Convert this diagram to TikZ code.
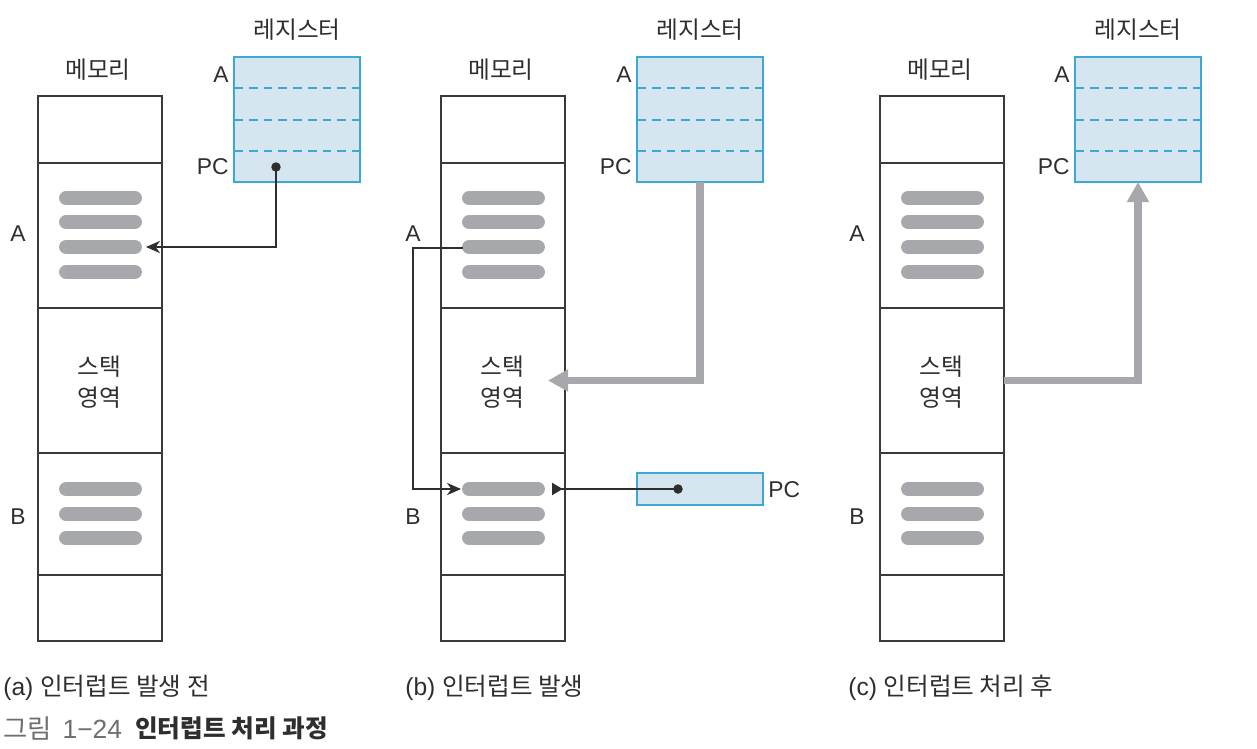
\documentclass[tikz,border=0pt]{standalone}
\usepackage{fontspec}
\setmainfont{Liberation Sans}
\newfontfamily\kr{Noto Sans CJK KR}
\usetikzlibrary{arrows.meta}
\definecolor{regfill}{HTML}{D6E6F1}
\definecolor{regline}{HTML}{3DA9D2}
\definecolor{barg}{HTML}{A7A8AB}
\definecolor{memline}{HTML}{3A3A3A}
\definecolor{txt}{HTML}{2E2E2E}
\definecolor{capgray}{HTML}{6E6E6E}
\begin{document}
\begin{tikzpicture}[x=0.02cm,y=-0.02cm,
  memrow/.style={draw=memline, line width=1.1pt, minimum width=2.48cm, anchor=north west, inner sep=0, outer sep=0},
  reg/.style={draw=regline, fill=regfill, line width=0.9pt, minimum width=2.52cm, anchor=north west, inner sep=0, outer sep=0},
  dashln/.style={draw=regline, dash pattern=on 5pt off 3.4pt, line width=0.8pt},
  bar/.style={draw=barg, line width=7.9pt, line cap=round},
  ptr/.style={draw=txt, line width=0.8pt},
  garrow/.style={draw=barg, line width=4pt, -{Triangle[length=11.5pt,width=12pt]}},
  lbl/.style={text=txt, font=\fontsize{13}{15}\selectfont, inner sep=0},
  kl/.style={text=txt, font=\kr\fontsize{13.5}{18}\selectfont, inner sep=0},
  captxt/.style={text=txt, font=\fontsize{14}{16}\selectfont, inner sep=0, anchor=west}]
\useasboundingbox (0,0) rectangle (1257,748);

\foreach \p/\dx/\rdx/\lx in {a/0/0/18, b/403/403/413, c/842/841/857} {
  % memory column
  \node[memrow, minimum height=1.34cm] (m\p1) at (38+\dx,96) {};
  \node[memrow, minimum height=2.90cm] (m\p2) at (38+\dx,163) {};
  \node[memrow, minimum height=2.90cm] (m\p3) at (38+\dx,308) {};
  \node[memrow, minimum height=2.44cm] (m\p4) at (38+\dx,453) {};
  \node[memrow, minimum height=1.32cm] (m\p5) at (38+\dx,575) {};
  \foreach \yy in {198,222,247,272,489,514,538}
    \draw[bar] (66+\dx,\yy) -- (135+\dx,\yy);
  \node[kl] (ml\p) at (98+\dx,70) {메모리};
  \node[kl, align=center] (st\p) at (99+\dx,382) {스택\\영역};
  \node[lbl] (la\p) at (\lx,234) {A};
  \node[lbl] (lb\p) at (\lx,517) {B};
  % register
  \node[reg, minimum height=2.50cm] (r\p) at (234+\rdx,57) {};
  \draw[dashln] (234+\rdx,88) -- (360+\rdx,88);
  \draw[dashln] (234+\rdx,120) -- (360+\rdx,120);
  \draw[dashln] (234+\rdx,151) -- (360+\rdx,151);
  \node[kl] (rl\p) at (297+\rdx,30) {레지스터};
  \node[lbl, anchor=east] (ra\p) at (229+\rdx,75) {A};
  \node[lbl, anchor=east] (rp\p) at (229+\rdx,167) {PC};
}

% (a) PC points into A block
\coordinate (pa) at (276,167);
\coordinate (ta) at (146,247);
\fill[txt] (pa) circle (2.7pt);
\draw[ptr, -{Stealth[length=8pt,width=7pt,inset=2.5pt]}] (pa) |- (ta);

% (b)
\draw[garrow] (rb.south) |- ([xshift=-0.34cm]mb3.east);
\coordinate (bA) at (463,248);
\coordinate (bL) at (413,248);
\coordinate (bB) at (461,489);
\draw[ptr, -{Stealth[length=8pt,width=7pt,inset=2.5pt]}] (bA) -- (bL) |- (bB);
\node[reg, minimum height=0.64cm] (pcb) at (637,473) {};
\node[lbl, anchor=west] (pcl) at (768,490) {PC};
\coordinate (pbd) at (678,489);
\coordinate (pbt) at (552,489);
\fill[txt] (pbd) circle (2.7pt);
\draw[ptr, {Triangle[reversed,length=6pt,width=7pt]}-] (pbt) -- (pbd);

% (c)
\draw[garrow] (mc3.east) -| (rc.south);

% captions
\node[captxt] (ca) at (3,688) {(a) {\kr 인터럽트 발생 전}};
\node[captxt] (cb) at (405,688) {(b) {\kr 인터럽트 발생}};
\node[captxt] (cc) at (848,688) {(c) {\kr 인터럽트 처리 후}};
\node[captxt, text=capgray, font=\fontsize{15}{17}\selectfont] (fig) at (3,728) {{\kr 그림}\hspace{2pt} 1−24};
\node[captxt] (figt) at (135,728) {\kr\bfseries 인터럽트 처리 과정};
\end{tikzpicture}
\end{document}
